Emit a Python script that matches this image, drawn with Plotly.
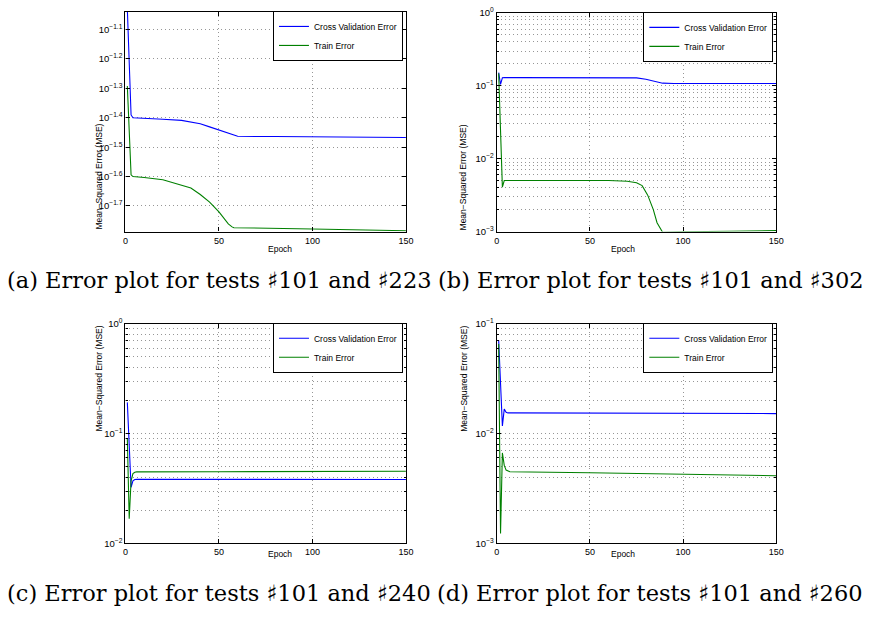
import plotly.graph_objects as go

# ---------------- data ----------------
# (a) tests 101 & 223
a_cv_epoch = [1, 2, 3, 4, 10, 20, 30, 35, 40, 45, 50, 55, 58, 60, 80, 100, 150]
a_cv_mse = [0.0933, 0.0603, 0.0407, 0.0398, 0.0397, 0.03936, 0.0390, 0.03855, 0.0380,
            0.03707, 0.03614, 0.03524, 0.03459, 0.03443, 0.03436, 0.03428, 0.03412]
a_tr_epoch = [1, 2, 3, 4, 10, 20, 30, 35, 40, 45, 50, 53, 55, 57, 58, 100, 150]
a_tr_mse = [0.05105, 0.03622, 0.02547, 0.02512, 0.02495, 0.02449, 0.02355, 0.02296, 0.02183,
            0.02056, 0.01905, 0.01799, 0.01734, 0.01694, 0.01683, 0.01667, 0.01644]

# (b) tests 101 & 302
b_cv_epoch = [1, 2, 3, 4, 10, 40, 70, 75, 80, 85, 89, 95, 150]
b_cv_mse = [0.1514, 0.1047, 0.1288, 0.1294, 0.1294, 0.1294, 0.1291, 0.1282, 0.1230,
            0.1148, 0.1086, 0.1074, 0.1074]
b_tr_epoch = [1, 2, 3, 4, 10, 50, 60, 70, 75, 78, 81, 84, 86, 89, 100, 125, 150]
b_tr_mse = [0.148, 0.0248, 0.00407, 0.00501, 0.00501, 0.00504, 0.00501, 0.00490, 0.00468,
            0.00427, 0.00316, 0.00200, 0.00132, 0.000977, 0.000995, 0.00101, 0.001035]

# (c) tests 101 & 240
c_cv_epoch = [1, 2, 3, 4, 5, 6, 150]
c_cv_mse = [0.1923, 0.0787, 0.0324, 0.0372, 0.0382, 0.0383, 0.0382]
c_tr_epoch = [1, 2, 3, 4, 5, 6, 50, 100, 150]
c_tr_mse = [0.0902, 0.01675, 0.0372, 0.04325, 0.04446, 0.04477, 0.04498, 0.04519, 0.04539]

# (d) tests 101 & 260
d_cv_epoch = [1, 2, 3, 4, 5, 6, 50, 100, 150]
d_cv_mse = [0.0710, 0.0279, 0.01175, 0.0167, 0.01563, 0.01542, 0.01542, 0.01535, 0.01521]
d_tr_epoch = [1, 2, 3, 4, 5, 7, 50, 100, 150]
d_tr_mse = [0.0653, 0.00123, 0.00667, 0.00513, 0.00465, 0.00449, 0.00440, 0.00428, 0.00413]

series_names = ["Cross Validation Error", "Train Error"]
captions = ["(a) Error plot for tests \u266f101 and \u266f223",
            "(b) Error plot for tests \u266f101 and \u266f302",
            "(c) Error plot for tests \u266f101 and \u266f240",
            "(d) Error plot for tests \u266f101 and \u266f260"]
x_ticks = [0, 50, 100, 150]
a_ytick_exp = [-1.1, -1.2, -1.3, -1.4, -1.5, -1.6, -1.7]
b_ytick_exp = [0, -1, -2, -3]
c_ytick_exp = [0, -1, -2]
d_ytick_exp = [-1, -2, -3]
y_ranges = [[-1.787, -1.04], [-3, 0], [-2, 0], [-3, -1]]

# ---------------- layout geometry ----------------
W, H = 887, 620
boxes = [(124, 408, 5, 229), (500, 783, 6, 229), (124, 408, 323, 547), (500, 783, 323, 547)]
BLUE = "rgb(0,0,255)"
GREEN = "rgb(0,128,0)"
FONT = "Liberation Sans"
GRID = "rgb(150,150,150)"
GRIDDASH = "1px,3px"

fig = go.Figure()
panels = [
    (a_cv_epoch, a_cv_mse, a_tr_epoch, a_tr_mse, a_ytick_exp),
    (b_cv_epoch, b_cv_mse, b_tr_epoch, b_tr_mse, b_ytick_exp),
    (c_cv_epoch, c_cv_mse, c_tr_epoch, c_tr_mse, c_ytick_exp),
    (d_cv_epoch, d_cv_mse, d_tr_epoch, d_tr_mse, d_ytick_exp),
]


def fmt_exp(e):
    s = ("%g" % e).replace("-", "\u2212")
    return "10<sup>%s</sup>" % s


annotations = []
for i, (cx, cy, tx, ty, yexp) in enumerate(panels):
    n = i + 1
    xa = "x" if n == 1 else "x%d" % n
    ya = "y" if n == 1 else "y%d" % n
    lg = "legend" if n == 1 else "legend%d" % n
    fig.add_trace(go.Scatter(x=cx, y=cy, mode="lines", name=series_names[0],
                             line=dict(color=BLUE, width=1.1), xaxis=xa, yaxis=ya, legend=lg))
    fig.add_trace(go.Scatter(x=tx, y=ty, mode="lines", name=series_names[1],
                             line=dict(color=GREEN, width=1.1), xaxis=xa, yaxis=ya, legend=lg))
    x0, x1, y0, y1 = boxes[i]
    xd = [x0 / W, x1 / W]
    yd = [1 - y1 / H, 1 - y0 / H]
    axcommon = dict(showline=True, linecolor="black", linewidth=1.3, mirror="allticks",
                    ticks="inside", ticklen=4, tickcolor="black",
                    showgrid=True, gridcolor=GRID, griddash=GRIDDASH, gridwidth=1,
                    zeroline=False)
    xkey = "xaxis" if n == 1 else "xaxis%d" % n
    ykey = "yaxis" if n == 1 else "yaxis%d" % n
    fig.layout[xkey] = dict(domain=xd, range=[0, 150], tickmode="array", tickvals=x_ticks,
                            anchor=ya, tickfont=dict(family=FONT, size=9, color="black"),
                            **axcommon)
    yv = [10 ** e for e in yexp]
    ydict = dict(domain=yd, type="log", range=y_ranges[i], tickmode="array",
                 tickvals=yv, ticktext=[fmt_exp(e) for e in yexp], anchor=xa,
                 tickfont=dict(family=FONT, size=9.5, color="black"), **axcommon)
    if n > 1:
        lo, hi = y_ranges[i]
        minor_vals = [m * 10 ** d for d in range(int(lo), int(hi)) for m in range(2, 10)]
        ydict["minor"] = dict(tickmode="array", tickvals=minor_vals, ticks="inside", ticklen=2,
                              tickcolor="black", showgrid=True, gridcolor=GRID,
                              griddash=GRIDDASH, gridwidth=1)
    fig.layout[ykey] = ydict
    fig.layout[lg] = dict(x=(x1 - 3) / W, y=1 - (y0 - 1) / H, xanchor="right", yanchor="top",
                          bgcolor="white", bordercolor="black", borderwidth=1,
                          font=dict(family=FONT, size=8.5, color="black"),
                          itemwidth=30, tracegroupgap=0)
    # axis titles
    annotations.append(dict(text="Epoch", x=(x0 + x1) / 2 / W, y=1 - (y1 + 18) / H,
                            xref="paper", yref="paper", showarrow=False,
                            font=dict(family=FONT, size=8.5, color="black")))
    annotations.append(dict(text="Mean\u2212Squared Error (MSE)", x=(x0 - 34) / W,
                            y=1 - (y0 + y1) / 2 / H, xref="paper", yref="paper",
                            showarrow=False, textangle=-90,
                            font=dict(family=FONT, size=8.5, color="black")))

cap_pos = [(2, 278), (438, 278), (2, 598), (437, 598)]
for (cx, cy), txt in zip(cap_pos, captions):
    annotations.append(dict(text=txt, x=cx / W, y=1 - cy / H, xref="paper", yref="paper",
                            xanchor="left", yanchor="middle", showarrow=False,
                            font=dict(family="DejaVu Serif", size=22.5, color="black")))

fig.update_layout(width=W, height=H, margin=dict(l=0, r=0, t=0, b=0),
                  paper_bgcolor="white", plot_bgcolor="white",
                  annotations=annotations, showlegend=True)

fig.write_html("out.html", config={"displayModeBar": False},
               post_script="document.body.style.margin='0px';")
